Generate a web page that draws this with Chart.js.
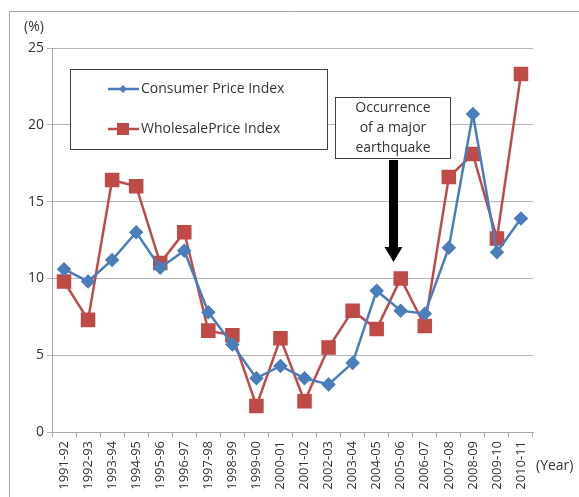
<!DOCTYPE html>
<html>
<head>
<meta charset="utf-8">
<script src="https://cdn.jsdelivr.net/npm/chart.js@4/dist/chart.umd.min.js"></script>
<style>
  html, body { margin: 0; padding: 0; background: #fff; }
  #wrap { width: 579px; height: 497px; position: relative; }
</style>
</head>
<body>
<div id="wrap"><canvas id="chart" width="579" height="497"></canvas></div>
<script>
const years = ['1991-92','1992-93','1993-94','1994-95','1995-96','1996-97','1997-98','1998-99','1999-00','2000-01',
  '2001-02','2002-03','2003-04','2004-05','2005-06','2006-07','2007-08','2008-09','2009-10','2010-11'];
const cpi = [10.6, 9.8, 11.2, 13.0, 10.7, 11.8, 7.8, 5.7, 3.5, 4.3, 3.5, 3.1, 4.5, 9.2, 7.9, 7.7, 12.0, 20.7, 11.7, 13.9];
const wpi = [9.8, 7.3, 16.4, 16.0, 11.0, 13.0, 6.6, 6.3, 1.7, 6.1, 2.0, 5.5, 7.9, 6.7, 10.0, 6.9, 16.6, 18.1, 12.6, 23.3];
const yTicks = [0, 5, 10, 15, 20, 25];

const FONT = '"Open Sans", "Liberation Sans", sans-serif';
const blue = '#4a7ebb';
const red = '#be4b48';
const textColor = '#333';

// frame, legend box, note box with arrow, axis captions
const extras = {
  id: 'extras',
  afterDraw(chart) {
    const ctx = chart.ctx;
    ctx.save();
    // outer frame
    ctx.strokeStyle = '#a6a6a6';
    ctx.lineWidth = 1;
    ctx.beginPath();
    ctx.moveTo(9.5, 497);
    ctx.lineTo(9.5, 11.5);
    ctx.lineTo(579, 11.5);
    ctx.stroke();

    ctx.fillStyle = textColor;
    ctx.font = '14px ' + FONT;
    ctx.textBaseline = 'middle';
    ctx.textAlign = 'left';
    ctx.fillText('(%)', 24, 27);
    ctx.fillText('(Year)', 536, 466);

    // legend
    ctx.fillStyle = '#fff';
    ctx.fillRect(70, 69, 257, 80);
    ctx.strokeStyle = '#404040';
    ctx.strokeRect(70.5, 69.5, 257, 80);
    chart.data.datasets.forEach((ds, i) => {
      const y = 89 + i * 40;
      ctx.strokeStyle = ds.borderColor;
      ctx.lineWidth = 2.5;
      ctx.beginPath();
      ctx.moveTo(108, y);
      ctx.lineTo(139, y);
      ctx.stroke();
      ctx.fillStyle = ds.borderColor;
      if (ds.pointStyle === 'rect') {
        ctx.fillRect(117, y - 6, 12, 12);
      } else {
        ctx.beginPath();
        ctx.moveTo(123, y - 4);
        ctx.lineTo(127, y);
        ctx.lineTo(123, y + 4);
        ctx.lineTo(119, y);
        ctx.closePath();
        ctx.fill();
      }
      ctx.fillStyle = textColor;
      ctx.font = '14px ' + FONT;
      ctx.fillText(ds.label, 141, y);
    });

    // note box
    ctx.fillStyle = '#fff';
    ctx.fillRect(335, 97, 115, 61);
    ctx.strokeStyle = '#404040';
    ctx.lineWidth = 1;
    ctx.strokeRect(335.5, 97.5, 115, 61);
    ctx.fillStyle = textColor;
    ctx.textAlign = 'center';
    ['Occurrence', 'of a major', 'earthquake'].forEach((t, i) => ctx.fillText(t, 393, 108 + i * 20));

    // arrow
    ctx.fillStyle = '#000';
    ctx.fillRect(389, 160, 9, 88);
    ctx.beginPath();
    ctx.moveTo(384.5, 247);
    ctx.lineTo(402.5, 247);
    ctx.lineTo(393.5, 262);
    ctx.closePath();
    ctx.fill();
    ctx.restore();
  }
};

new Chart(document.getElementById('chart'), {
  type: 'line',
  data: {
    labels: years,
    datasets: [
      { label: 'Consumer Price Index', data: cpi, borderColor: blue, backgroundColor: blue,
        borderWidth: 2.5, pointStyle: 'rectRot', pointRadius: 5.5, pointHoverRadius: 5.5, tension: 0 },
      { label: 'WholesalePrice Index', data: wpi, borderColor: red, backgroundColor: red,
        borderWidth: 2.5, pointStyle: 'rect', pointRadius: 8.5, pointHoverRadius: 8.5, tension: 0 }
    ]
  },
  options: {
    responsive: false,
    animation: false,
    events: [],
    layout: { padding: { left: 0, top: 48, right: 46, bottom: 0 } },
    plugins: { legend: { display: false }, tooltip: { enabled: false } },
    scales: {
      x: {
        offset: true,
        grid: { drawOnChartArea: false, drawTicks: true, tickLength: 5, offset: true, color: '#a6a6a6' },
        border: { color: '#a6a6a6' },
        ticks: { autoSkip: false, minRotation: 90, maxRotation: 90, padding: 4, color: textColor, font: { family: FONT, size: 13 } },
        afterFit(s) { s.height = 65; }
      },
      y: {
        min: 0, max: 25,
        afterBuildTicks(s) { s.ticks = yTicks.map(v => ({ value: v })); },
        grid: { color: '#b5b5b5', tickLength: 5 },
        border: { color: '#a6a6a6' },
        ticks: { padding: 3, color: textColor, font: { family: FONT, size: 14 } },
        afterFit(s) { s.width = 52; }
      }
    }
  },
  plugins: [extras]
});
</script>
</body>
</html>
